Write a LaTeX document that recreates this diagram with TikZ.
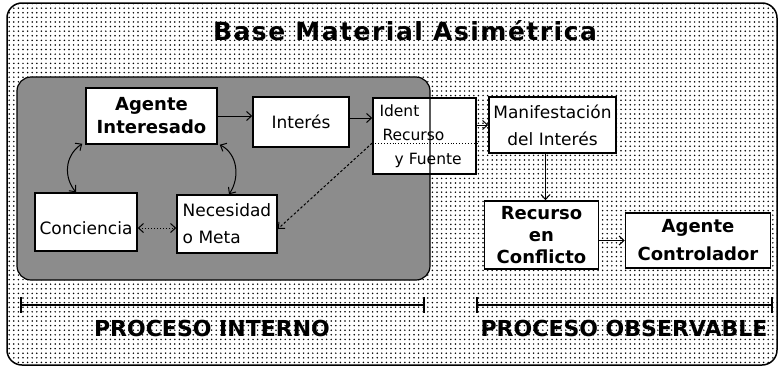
\documentclass[tikz,border=0pt]{standalone}
\usepackage{fontspec}
\setmainfont{DejaVu Sans}
\newfontfamily\titlefont[LetterSpace=6]{DejaVu Sans}
\usetikzlibrary{arrows.meta,patterns.meta,calc}
\tikzdeclarepattern{
  name=sparsedots,
  type=uncolored,
  bounding box={(-1pt,-1pt) and (1pt,1pt)},
  tile size={(4.6pt,4.6pt)},
  code={\fill (0pt,0pt) circle (0.85pt);}
}
\begin{document}
\begin{tikzpicture}[x=1pt,y=-1pt,
  box/.style={draw, fill=white, line width=1.5pt, inner sep=0pt, align=center},
  boldtxt/.style={font=\fontsize{18}{23}\selectfont\bfseries},
  regtxt/.style={font=\fontsize{17}{27}\selectfont},
  arr/.style={-{Straight Barb[length=5pt,width=9pt]}, line width=1pt},
  arrboth/.style={{Straight Barb[length=5pt,width=9pt]}-{Straight Barb[length=5pt,width=9pt]}, line width=1pt},
  barline/.style={line width=1.3pt},
  bigcaps/.style={font=\fontsize{22}{22}\selectfont\bfseries}
]
\useasboundingbox (0,0) rectangle (778,367);
% outer panel
\fill[white, rounded corners=15pt] (7,3) rectangle (777,365);
\fill[pattern=sparsedots, pattern color=black, rounded corners=15pt] (7,3) rectangle (777,365);
\draw[line width=1.5pt, rounded corners=15pt] (7,3) rectangle (777,365);
% inner panel
\fill[black!45, rounded corners=14pt] (17,77) rectangle (430,280);

\node[font=\titlefont\bfseries\fontsize{25}{25}\selectfont] (title) at (405,31) {Base Material Asimétrica};

% boxes
\node[box, boldtxt, minimum width=131pt, minimum height=56pt] (ai) at (151.5,116) {Agente\\Interesado};
\node[box, regtxt, minimum width=96pt, minimum height=50pt] (int) at (301,122) {Interés};
\node[box, minimum width=103pt, minimum height=76pt, align=left, text width=90pt,
      font=\fontsize{15.5}{24}\selectfont] (idr) at (424.5,136) {Ident\\\hspace*{3pt}Recurso\\\hspace*{15pt}y Fuente};
\draw[line width=0.9pt, dotted] ([yshift=-7pt]idr.west) -- ([yshift=-7pt]idr.east);
\node[box, regtxt, minimum width=127pt, minimum height=56pt] (man) at (552.5,125) {Manifestación\\del Interés};
\node[box, minimum width=102pt, minimum height=58pt] (con) at (86,222) {};
\node[regtxt] (contxt) at (86,228) {Conciencia};
\node[box, regtxt, align=left, minimum width=100pt, minimum height=58pt] (nec) at (227,224) {Necesidad\\o Meta};
\node[box, font=\fontsize{18}{22}\selectfont\bfseries, minimum width=114pt, minimum height=68pt] (rec) at (541.5,235) {Recurso\\en\\Conflicto};
\node[box, font=\fontsize{18}{28}\selectfont\bfseries, minimum width=145pt, minimum height=55pt] (ac) at (698,240.5) {Agente\\Controlador};

% inner panel border (drawn over the boxes, as in the original)
\draw[line width=1.2pt, rounded corners=14pt] (17,77) rectangle (430,280);

% connectors
\draw[arr] (ai.east) -- (ai.east -| int.west);
\draw[arr] ([yshift=4pt]int.east) -- ([yshift=4pt]int.east -| idr.west);
\draw[arr] (man.west -| idr.east) -- (man.west);
\draw[arr] ([xshift=4pt]rec.north |- man.south) -- ([xshift=4pt]rec.north);
\draw[arr] (ac.west -| rec.east) -- (ac.west);
\draw[arrboth] ([xshift=-3pt,yshift=1pt]ai.south west) .. controls (64,156) and (64,178) .. ([xshift=-10pt]con.north);
\draw[arrboth] ([xshift=2pt]ai.south east) .. controls (238,154) and (240,178) .. ([xshift=2pt]nec.north);
\draw[arrboth, dotted] ([yshift=-6pt]con.east) -- ([yshift=-6pt]con.east -| nec.west);
\draw[arr, dash pattern=on 2.5pt off 2pt] ([yshift=-7pt]idr.west) -- ([yshift=-5pt]nec.east);

% scale bars
\coordinate (pia) at (21,305);
\coordinate (pib) at (424,305);
\coordinate (poa) at (477,305);
\coordinate (pob) at (772,305);
\draw[barline] (pia) -- (pib);
\draw[barline] ([yshift=8pt]pia) -- ([yshift=-8pt]pia);
\draw[barline] ([yshift=8pt]pib) -- ([yshift=-8pt]pib);
\draw[barline] (poa) -- (pob);
\draw[barline] ([yshift=8pt]poa) -- ([yshift=-8pt]poa);
\draw[barline] ([yshift=8pt]pob) -- ([yshift=-8pt]pob);
\node[bigcaps] (lpi) at (212,328) {PROCESO INTERNO};
\node[bigcaps] (lpo) at (624,328) {PROCESO OBSERVABLE};
\end{tikzpicture}
\end{document}
